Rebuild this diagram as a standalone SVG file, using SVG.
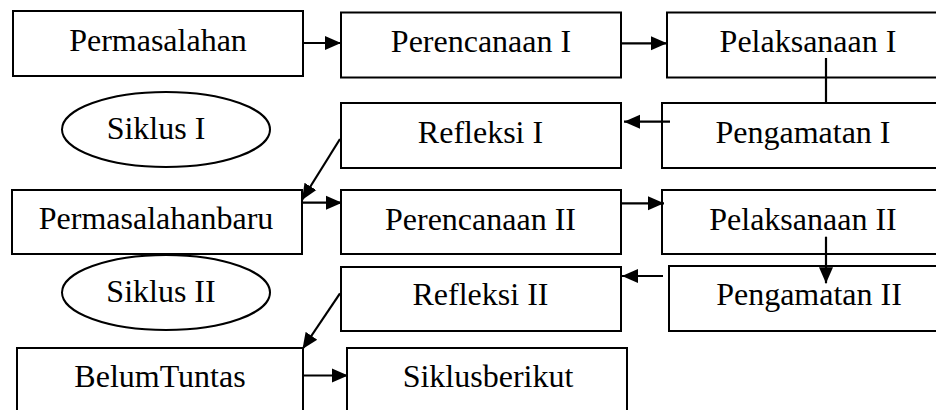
<svg xmlns="http://www.w3.org/2000/svg" width="936" height="410" viewBox="0 0 936 410">
<style>
.b{fill:#fff;stroke:#000;stroke-width:2}
.t{font-family:"Liberation Serif","Times New Roman",serif;font-size:32px;fill:#000;text-anchor:middle}
.c{stroke:#000;stroke-width:2.2;fill:none}
.a{marker-end:url(#ah)}
</style>
<defs>
<marker id="ah" markerUnits="userSpaceOnUse" markerWidth="18" markerHeight="16" refX="16" refY="8" orient="auto">
<path d="M0,1 L16,8 L0,15 z" fill="#000"/>
</marker>
</defs>
<rect width="936" height="410" fill="#fff"/>
<g id="n1"><rect class="b" x="13" y="11" width="290" height="65"/><text class="t" x="158" y="51">Permasalahan</text></g>
<g id="n2"><rect class="b" x="341" y="12.5" width="280" height="65"/><text class="t" x="481" y="52">Perencanaan I</text></g>
<g id="n3"><rect class="b" x="667" y="12.5" width="300" height="65"/><text class="t" x="808" y="52">Pelaksanaan I</text></g>
<g id="n4"><ellipse class="b" cx="166" cy="129.5" rx="104" ry="37.5"/><text class="t" x="156" y="139">Siklus I</text></g>
<g id="n5"><rect class="b" x="341" y="103" width="280" height="65"/><text class="t" x="480.5" y="143">Refleksi I</text></g>
<g id="n6"><rect class="b" x="662" y="103" width="300" height="65"/><text class="t" x="803" y="143">Pengamatan I</text></g>
<g id="n7"><rect class="b" x="12" y="190" width="290" height="64"/><text class="t" x="156" y="229">Permasalahanbaru</text></g>
<g id="n8"><rect class="b" x="341" y="190" width="280" height="64"/><text class="t" x="480.5" y="230">Perencanaan II</text></g>
<g id="n9"><rect class="b" x="662" y="190" width="300" height="64"/><text class="t" x="803" y="230">Pelaksanaan II</text></g>
<g id="n10"><ellipse class="b" cx="166" cy="292.5" rx="104" ry="37.5"/><text class="t" x="161" y="301.5">Siklus II</text></g>
<g id="n11"><rect class="b" x="341" y="267" width="280" height="64"/><text class="t" x="480.5" y="305">Refleksi II</text></g>
<g id="n12"><rect class="b" x="669" y="266" width="300" height="65"/><text class="t" x="809" y="305">Pengamatan II</text></g>
<g id="n13"><rect class="b" x="17" y="348" width="286" height="100"/><text class="t" x="160" y="386.5">BelumTuntas</text></g>
<g id="n14"><rect class="b" x="347" y="348" width="280" height="100"/><text class="t" x="488" y="386.5">Siklusberikut</text></g>
<g id="connectors">
<line class="c a" x1="303" y1="43" x2="341" y2="43"/>
<line class="c a" x1="621" y1="43.3" x2="667" y2="43.3"/>
<line class="c" x1="826" y1="58" x2="826" y2="103"/>
<line class="c a" x1="670" y1="121.7" x2="624" y2="121.7"/>
<line class="c a" x1="340" y1="139" x2="302" y2="200"/>
<line class="c a" x1="302" y1="202.7" x2="342" y2="202.7"/>
<line class="c a" x1="621" y1="203.3" x2="664" y2="203.3"/>
<line class="c a" x1="826" y1="236.7" x2="826" y2="283.3"/>
<line class="c a" x1="663" y1="276" x2="622" y2="276"/>
<line class="c a" x1="340" y1="293.3" x2="302.5" y2="349"/>
<line class="c a" x1="303" y1="375.5" x2="348" y2="375.5"/>
</g>
</svg>
